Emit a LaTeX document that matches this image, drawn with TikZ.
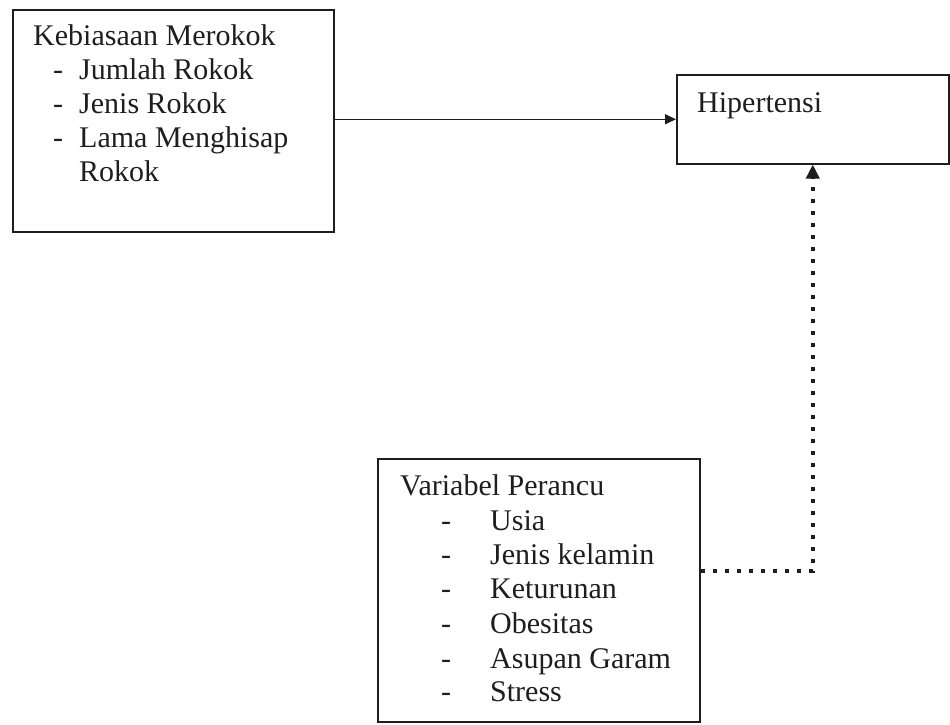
\documentclass[tikz,border=0pt]{standalone}
\usepackage{fontspec}
\setmainfont{Liberation Serif}
\usetikzlibrary{arrows.meta}
\definecolor{ink}{HTML}{1E1E1E}
\tikzset{
  box/.style={draw=ink, line width=1.5pt, rectangle, inner sep=0pt, anchor=north west},
  txt/.style={anchor=base west, inner sep=0pt, text=ink, font=\fontsize{30}{34}\selectfont},
  solidarrow/.style={draw=ink, line width=1.3pt, -{Triangle[length=11pt,width=10pt]}},
  dotarrow/.style={draw=ink, line width=4.5pt, dash pattern=on 4.5pt off 7.5pt, -{Triangle[length=14pt,width=13pt]}}
}
\begin{document}
\begin{tikzpicture}[x=1pt,y=-1pt]
\useasboundingbox (0,0) rectangle (950,724);
% boxes
\node[box, minimum width=321pt, minimum height=222pt] (a) at (12,9) {};
\node[box, minimum width=272pt, minimum height=89pt] (h) at (676,74) {};
\node[box, minimum width=322pt, minimum height=263pt] (v) at (377,458) {};
% box a texts
\node[txt] (a0) at (33,45) {Kebiasaan Merokok};
\node[txt] (a1d) at (53,79) {-};
\node[txt] (a1) at (79,79) {Jumlah Rokok};
\node[txt] (a2d) at (53,113) {-};
\node[txt] (a2) at (79,113) {Jenis Rokok};
\node[txt] (a3d) at (53,147) {-};
\node[txt] (a3) at (79,147) {Lama Menghisap};
\node[txt] (a4) at (79,181) {Rokok};
% box h text
\node[txt] (h0) at (697,112) {Hipertensi};
% box v texts
\node[txt] (v0) at (400,495) {Variabel Perancu};
\node[txt] (v1d) at (441,530) {-};
\node[txt] (v1) at (490,530) {Usia};
\node[txt] (v2d) at (441,564) {-};
\node[txt] (v2) at (490,564) {Jenis kelamin};
\node[txt] (v3d) at (441,598) {-};
\node[txt] (v3) at (490,598) {Keturunan};
\node[txt] (v4d) at (441,633) {-};
\node[txt] (v4) at (490,633) {Obesitas};
\node[txt] (v5d) at (441,668) {-};
\node[txt] (v5) at (490,668) {Asupan Garam};
\node[txt] (v6d) at (441,701) {-};
\node[txt] (v6) at (490,701) {Stress};
% connectors
\draw[solidarrow] (a.east |- h.west) -- (h.west);
\draw[dotarrow] ([yshift=19.5pt]v.east) -| (h.south);
\end{tikzpicture}
\end{document}
